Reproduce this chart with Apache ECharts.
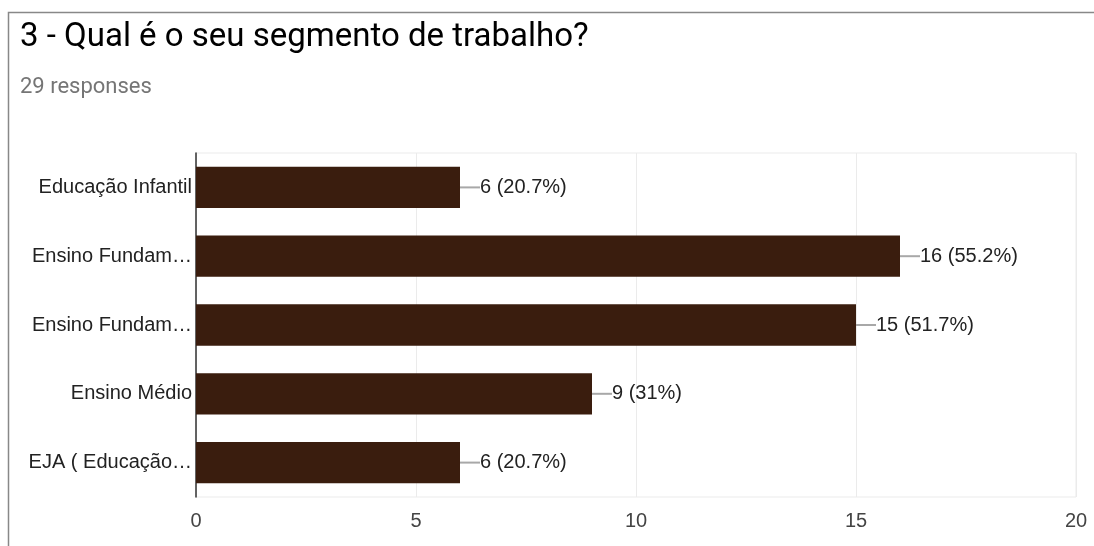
<!DOCTYPE html>
<html>
<head>
<meta charset="utf-8">
<script src="https://cdn.jsdelivr.net/npm/echarts@6/dist/echarts.min.js"></script>
<style>
  html, body { margin: 0; padding: 0; background: #fff; }
  #chart { width: 1094px; height: 546px; }
</style>
</head>
<body>
<div id="chart"></div>
<script>
const TITLE = '3 - Qual é o seu segmento de trabalho?';
const TOTAL = 29;
const categories = ['Educação Infantil', 'Ensino Fundam…', 'Ensino Fundam…', 'Ensino Médio', 'EJA ( Educação…'];
const counts = [6, 16, 15, 9, 6];
const xTicks = [0, 5, 10, 15, 20];

function pct(v) {
    let p = (v / TOTAL * 100).toFixed(1);
    if (p.endsWith('.0')) p = p.slice(0, -2);
    return v + ' (' + p + '%)';
}

const chart = echarts.init(document.getElementById('chart'));
chart.setOption({
    animation: false,
    backgroundColor: '#fff',
    graphic: [
        { type: 'polyline', shape: { points: [[8.5, 546], [8.5, 12.5], [1094, 12.5]] },
          style: { stroke: '#888', lineWidth: 1.5, fill: null } },
        { type: 'text', left: 20, top: 21,
          style: { text: TITLE, font: '33px Roboto', fill: '#000' } },
        { type: 'text', left: 20, top: 76,
          style: { text: TOTAL + ' responses', font: '22px Roboto', fill: '#757575' } }
    ],
    grid: { left: 196, right: 18, top: 153, bottom: 49, containLabel: false,
            show: true, borderColor: '#ebebeb', borderWidth: 1 },
    xAxis: {
        type: 'value', min: xTicks[0], max: xTicks[xTicks.length - 1], interval: 5,
        axisLine: { show: false }, axisTick: { show: false },
        axisLabel: { fontFamily: 'Liberation Sans', fontSize: 20, color: '#444', margin: 14 },
        splitLine: { lineStyle: { color: '#ebebeb', width: 1 } }
    },
    yAxis: {
        type: 'category', data: categories, inverse: true,
        axisLine: { show: true, lineStyle: { color: '#333', width: 1.5 } },
        axisTick: { show: false },
        axisLabel: { fontFamily: 'Liberation Sans', fontSize: 20, color: '#222', margin: 4 },
        splitLine: { show: false }
    },
    series: [{
        type: 'bar',
        data: counts,
        barWidth: '60%',
        itemStyle: { color: '#3a1d0e' },
        label: {
            show: true, position: 'right', distance: 0,
            formatter: p => '{l|}{t|' + pct(p.value) + '}',
            rich: {
                l: { width: 20, height: 2, backgroundColor: '#a8a8a8' },
                t: { fontFamily: 'Liberation Sans', fontSize: 20, color: '#222' }
            }
        }
    }]
});
</script>
</body>
</html>
